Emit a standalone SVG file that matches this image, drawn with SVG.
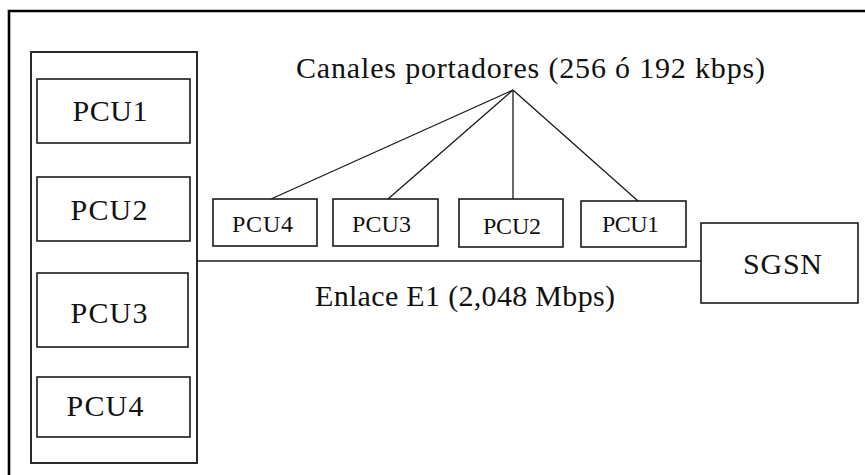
<svg xmlns="http://www.w3.org/2000/svg" width="865" height="475" viewBox="0 0 865 475">
<style>
.box{fill:#fff;stroke:#1a1a1a;stroke-width:1.6}
.outer{fill:none;stroke:#000;stroke-width:2.6}
.cont{fill:none;stroke:#2a2a2a;stroke-width:2}
.ln{fill:none;stroke:#1a1a1a;stroke-width:1.3}
text{font-family:'Liberation Serif','DejaVu Serif',serif;fill:#111;text-anchor:middle}
.big{font-size:30px}
.sm{font-size:24px}
</style>
<rect width="865" height="475" fill="#fff"/>
<path class="outer" d="M9,475 V11 H865"/>
<g id="bsc">
<rect class="cont" x="31" y="52" width="166" height="411"/>
</g>
<g id="connectors">
<line class="ln" x1="197" y1="261" x2="701" y2="261"/>
<line class="ln" x1="513" y1="90" x2="271" y2="199"/>
<line class="ln" x1="513" y1="90" x2="388" y2="199"/>
<line class="ln" x1="513" y1="90" x2="513" y2="199"/>
<line class="ln" x1="513" y1="90" x2="638" y2="201"/>
</g>
<g id="pcu1-left"><rect class="box" x="37" y="79" width="153" height="64"/><text class="big" x="110" y="121" textLength="75" font-family="Liberation Serif, serif">PCU1</text></g>
<g id="pcu2-left"><rect class="box" x="37" y="177" width="153" height="64"/><text class="big" x="109" y="220" textLength="77">PCU2</text></g>
<g id="pcu3-left"><rect class="box" x="37" y="273" width="151" height="74"/><text class="big" x="109" y="323" textLength="77">PCU3</text></g>
<g id="pcu4-left"><rect class="box" x="37" y="377" width="153" height="60"/><text class="big" x="105" y="416" textLength="77">PCU4</text></g>
<g id="pcu4"><rect class="box" x="213" y="199" width="104" height="47"/><text class="sm" x="262.5" y="232" textLength="61">PCU4</text></g>
<g id="pcu3"><rect class="box" x="333" y="199" width="105" height="47"/><text class="sm" x="381.5" y="232" textLength="59">PCU3</text></g>
<g id="pcu2"><rect class="box" x="459" y="199" width="104" height="48"/><text class="sm" x="512" y="234" textLength="58">PCU2</text></g>
<g id="pcu1"><rect class="box" x="581" y="201" width="105" height="46"/><text class="sm" x="630.5" y="232" textLength="57">PCU1</text></g>
<g id="sgsn"><rect class="box" x="701" y="223" width="157" height="80"/><text class="big" x="782.5" y="274" textLength="79">SGSN</text></g>
<text class="big" x="530.5" y="78" textLength="469">Canales portadores (256 ó 192  kbps)</text>
<text class="big" x="465" y="306" textLength="300">Enlace E1 (2,048 Mbps)</text>
</svg>
